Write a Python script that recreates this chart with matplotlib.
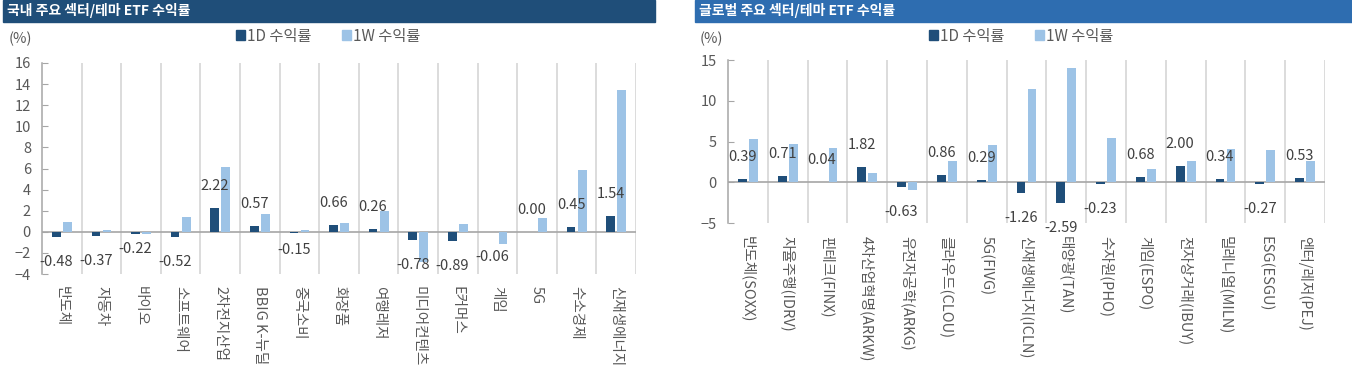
import matplotlib
matplotlib.use("Agg")
import matplotlib.pyplot as plt
from matplotlib.patches import Patch, Rectangle

plt.rcParams["font.family"] = ["Noto Sans CJK KR", "DejaVu Sans"]

DARK = "#1F4E79"
LIGHT = "#9DC3E6"
GRID = "#D9D9D9"
AXIS = "#A6A6A6"
TEXT = "#595959"

# 국내 주요 섹터/테마 ETF
KR_NAMES = ["반도체", "자동차", "바이오", "소프트웨어", "2차전지산업", "BBIG K-뉴딜",
            "중국소비", "화장품", "여행레저", "미디어컨텐츠", "E커머스", "게임", "5G",
            "수소경제", "신재생에너지"]
KR_1D = [-0.48, -0.37, -0.22, -0.52, 2.22, 0.57, -0.15, 0.66, 0.26, -0.78, -0.89,
         -0.06, 0.00, 0.45, 1.54]
KR_1W = [0.9, 0.2, -0.2, 1.4, 6.1, 1.7, 0.15, 0.85, 2.0, -2.9, 0.75, -1.2, 1.35,
         5.9, 13.4]

# 글로벌 주요 섹터/테마 ETF
GL_NAMES = ["반도체(SOXX)", "자율주행(IDRV)", "핀테크(FINX)", "4차산업혁명(ARKW)",
            "유전자공학(ARKG)", "클라우드(CLOU)", "5G(FIVG)", "신재생에너지(ICLN)",
            "태양광(TAN)", "수자원(PHO)", "게임(ESPO)", "전자상거래(IBUY)",
            "밀레니얼(MILN)", "ESG(ESGU)", "엔터/레저(PEJ)"]
GL_1D = [0.39, 0.71, 0.04, 1.82, -0.63, 0.86, 0.29, -1.26, -2.59, -0.23, 0.68, 2.00,
         0.34, -0.27, 0.53]
GL_1W = [5.3, 4.65, 4.25, 1.1, -1.0, 2.6, 4.6, 11.5, 14.0, 5.45, 1.65, 2.55, 4.1,
         3.95, 2.65]

W, H = 1352, 378


def px(x0, y0, x1, y1):
    # pixel box (top-left origin) -> figure fraction rect
    return [x0 / W, 1 - y1 / H, (x1 - x0) / W, (y1 - y0) / H]


def panel(fig, rect, names, d1, w1, ylim, yticks, title, title_box, title_color,
          pct_x, legend_x, nudge=None):
    nudge = nudge or {}
    ax = fig.add_axes(rect)
    n = len(names)
    xs = list(range(n))
    bw = 0.22
    ax.bar([x - 0.14 for x in xs], d1, width=bw, color=DARK, zorder=3)
    ax.bar([x + 0.14 for x in xs], w1, width=bw, color=LIGHT, zorder=3)

    for i, v in enumerate(d1):
        off = 22 if v >= 0 else -25
        off += nudge.get(i, 0)
        ax.annotate(f"{v:.2f}", (i - 0.14, v), xytext=(0, off * 0.72),
                    textcoords="offset points", ha="center", va="center",
                    fontsize=10.5, color="#404040", zorder=4)

    ax.set_xlim(-0.5, n - 0.5)
    ax.set_ylim(*ylim)
    ax.set_yticks(yticks)
    ax.set_xticks(xs)
    ax.set_xticklabels(names, rotation=270, fontsize=10.5, color=TEXT)
    ax.set_xticks([x + 0.5 for x in xs], minor=True)
    ax.grid(which="minor", axis="x", color=GRID, lw=1.3, zorder=0)
    ax.tick_params(axis="x", which="both", length=0, pad=9)
    ax.tick_params(axis="y", direction="in", length=4, color=AXIS, labelsize=10.5,
                   labelcolor=TEXT, pad=8)
    ax.axhline(0, color=AXIS, lw=1.2, zorder=2)
    for s in ("top", "right", "bottom"):
        ax.spines[s].set_visible(False)
    ax.spines["left"].set_color(AXIS)
    ax.spines["left"].set_linewidth(1.1)

    fig.patches.append(Rectangle((title_box[0], title_box[1]), title_box[2], title_box[3],
                                 transform=fig.transFigure, color=title_color, zorder=0))
    fig.text(title_box[0] + 4 / W, title_box[1] + title_box[3] / 2, title, color="white",
             fontsize=10, fontweight="bold", va="center", ha="left")
    fig.text(pct_x / W, 1 - 39 / H, "(%)", fontsize=10.5, color=TEXT, va="center")
    handles = [Patch(color=DARK), Patch(color=LIGHT)]
    fig.legend(handles, ["1D 수익률", "1W 수익률"], ncol=2, frameon=False,
               loc="center left", bbox_to_anchor=(legend_x / W, 1 - 36 / H),
               fontsize=11, handlelength=0.6, handleheight=0.6, handletextpad=0.15,
               columnspacing=2.0, borderpad=0, labelcolor=TEXT)
    return ax


fig = plt.figure(figsize=(W / 100, H / 100), dpi=100)

panel(fig, px(42, 63, 636, 274), KR_NAMES, KR_1D, KR_1W, (-4, 16), range(-4, 17, 2),
      "국내 주요 섹터/테마 ETF 수익률", px(3, 0, 655, 22), "#1F4E79",
      pct_x=9, legend_x=228, nudge={2: 10, 6: 8})
panel(fig, px(728, 60, 1325, 223), GL_NAMES, GL_1D, GL_1W, (-5, 15), range(-5, 16, 5),
      "글로벌 주요 섹터/테마 ETF 수익률", px(695, 0, 1352, 22), "#2E6DB0",
      pct_x=700, legend_x=921)

fig.savefig("out.png", dpi=100)
